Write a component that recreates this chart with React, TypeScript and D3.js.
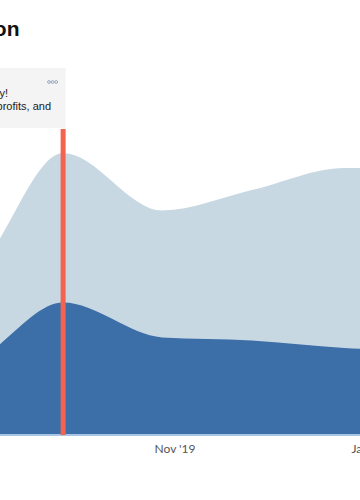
import React from "react";
import * as d3 from "d3";

const dates = [
  "2019-08-26", "2019-09-07", "2019-09-27", "2019-10-28", "2019-11-25", "2019-12-24", "2020-01-08",
];
const totalValues = [40.7, 64.7, 93.7, 74.5, 81.3, 88.7, 88.7];
const coreValues = [18, 29.7, 43.8, 32.2, 31.2, 28.7, 28];
const tickDates = ["2019-09-01", "2019-11-01", "2020-01-01"];
const tickLabels = ["Sep '19", "Nov '19", "Jan '20"];
const markerDate = "2019-09-27";
const titleText = "on";
const noteLines = ["y!", "profits, and"];

const parse = d3.timeParse("%Y-%m-%d");

export default function App() {
  const W = 360, H = 500;
  const base = 434;
  const x = d3.scaleTime()
    .domain([parse("2019-11-01")!, parse("2020-01-01")!])
    .range([175, 370]);
  const y = d3.scaleLinear().domain([0, 100]).range([base, 134]);
  const pts = dates.map((d, i) => ({ date: parse(d)!, total: totalValues[i], core: coreValues[i] }));
  const curve = d3.curveMonotoneX;
  const areaTotal = d3.area<any>().x(d => x(d.date)).y0(base).y1(d => y(d.total)).curve(curve);
  const areaCore = d3.area<any>().x(d => x(d.date)).y0(base).y1(d => y(d.core)).curve(curve);
  const mx = x(parse(markerDate)!);

  return (
    <svg width={W} height={H} style={{ position: "absolute", left: 0, top: 0, background: "#fff" }}>
      <text x={19.5} y={36} textAnchor="end" fontFamily="Liberation Sans, Arial, sans-serif" fontWeight="bold" fontSize={21} fill="#111">{titleText}</text>
      <path d={areaTotal(pts) || ""} fill="#c8d8e3" />
      <path d={areaCore(pts) || ""} fill="#3c6ea8" />
      <line x1={0} x2={W} y1={base + 1} y2={base + 1} stroke="#a9c5e4" strokeWidth={2} />
      {tickDates.map((t, i) => (
        <text key={t} x={x(parse(t)!)} y={453} textAnchor="middle" fontFamily="Lato, sans-serif" fontSize={12} fill="#555">{tickLabels[i]}</text>
      ))}
      <rect x={mx - 2.5} y={129} width={5} height={base + 1 - 129} fill="#f4634f" />
      <rect x={-10} y={68} width={mx + 2.5 + 10} height={60} fill="#f4f4f4" />
      {[0, 1, 2].map(i => (
        <circle key={i} cx={49 + i * 3.6} cy={82} r={1.4} fill="none" stroke="#8496b3" strokeWidth={0.8} />
      ))}
      {noteLines.map((l, i) => (
        <text key={i} x={i === 0 ? 8 : 51} y={97 + i * 13} textAnchor="end" fontFamily="Liberation Sans, Arial, sans-serif" fontSize={11} fill="#222">{l}</text>
      ))}
    </svg>
  );
}
